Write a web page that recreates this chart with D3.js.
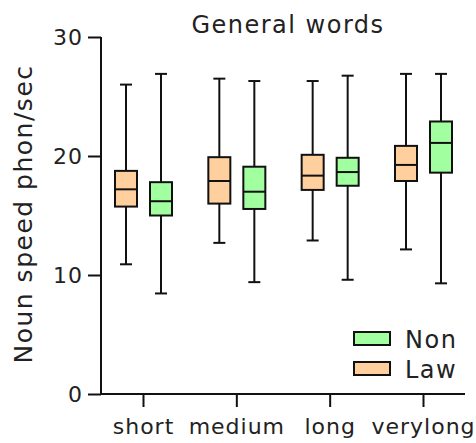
<!DOCTYPE html>
<html>
<head>
<meta charset="utf-8">
<script src="https://cdn.jsdelivr.net/npm/d3@7"></script>
<style>
  body { margin: 0; background: #fff; }
  text { font-family: "DejaVu Sans", sans-serif; fill: #222; }
</style>
</head>
<body>
<div id="chart"></div>
<script>
var categories = ["short", "medium", "long", "verylong"];
var groups = ["Law", "Non"];
var yTicks = [0, 10, 20, 30];

// [whiskerLow, q1, median, q3, whiskerHigh] per category
var lawStats = [
    [10.9, 15.75, 17.2, 18.75, 26.0],
    [12.7, 16.0, 17.9, 19.9, 26.5],
    [12.9, 17.15, 18.35, 20.1, 26.3],
    [12.15, 17.9, 19.25, 20.85, 26.9]
];
var nonStats = [
    [8.45, 15.0, 16.2, 17.8, 26.9],
    [9.4, 15.55, 17.0, 19.1, 26.3],
    [9.6, 17.5, 18.65, 19.85, 26.75],
    [9.3, 18.6, 21.1, 22.9, 26.9]
];

var colors = { Law: "#ffd09e", Non: "#a2ffa0" };

function init() {
    var w = 476, h = 443;
    var svg = d3.select("#chart").append("svg")
        .attr("width", w).attr("height", h);

    var x = d3.scalePoint().domain(categories).range([101, 465]).padding(0.45);
    var y = d3.scaleLinear().domain([0, 30]).range([394, 37]);
    var offset = { Law: -17, Non: 18 };
    var boxW = 22, capW = 12;

    // axes
    var yAxis = svg.append("g").attr("transform", "translate(101,0)")
        .call(d3.axisLeft(y).tickValues(yTicks).tickSize(13).tickPadding(5));
    var xAxis = svg.append("g").attr("transform", "translate(0,394)")
        .call(d3.axisBottom(x).tickSize(13).tickPadding(8));
    [yAxis, xAxis].forEach(function(g) {
        g.select(".domain").remove();
        g.selectAll("line").attr("stroke", "#111").attr("stroke-width", 2);
        g.selectAll("text").style("font-size", "22px").attr("fill", "#222")
            .style("letter-spacing", "1px")
            .style("font-family", "'DejaVu Sans', sans-serif");
    });
    xAxis.selectAll("text").attr("dy", "0.85em");
    svg.append("line").attr("x1", 101).attr("x2", 101).attr("y1", 37).attr("y2", 395)
        .attr("stroke", "#111").attr("stroke-width", 2);
    svg.append("line").attr("x1", 100).attr("x2", 465).attr("y1", 394).attr("y2", 394)
        .attr("stroke", "#111").attr("stroke-width", 2);

    var rows = [];
    categories.forEach(function(c, i) {
        rows.push({ cat: c, grp: "Law", s: lawStats[i] });
        rows.push({ cat: c, grp: "Non", s: nonStats[i] });
    });

    var box = svg.selectAll(".box").data(rows).enter().append("g")
        .attr("transform", function(d) { return "translate(" + (x(d.cat) + offset[d.grp]) + ",0)"; });

    box.append("line").attr("x1", 0).attr("x2", 0)
        .attr("y1", function(d) { return y(d.s[0]); })
        .attr("y2", function(d) { return y(d.s[4]); })
        .attr("stroke", "#111").attr("stroke-width", 2);
    box.append("line").attr("x1", -capW / 2).attr("x2", capW / 2)
        .attr("y1", function(d) { return y(d.s[0]); })
        .attr("y2", function(d) { return y(d.s[0]); })
        .attr("stroke", "#111").attr("stroke-width", 2);
    box.append("line").attr("x1", -capW / 2).attr("x2", capW / 2)
        .attr("y1", function(d) { return y(d.s[4]); })
        .attr("y2", function(d) { return y(d.s[4]); })
        .attr("stroke", "#111").attr("stroke-width", 2);
    box.append("rect").attr("x", -boxW / 2).attr("width", boxW)
        .attr("y", function(d) { return y(d.s[3]); })
        .attr("height", function(d) { return y(d.s[1]) - y(d.s[3]); })
        .attr("fill", function(d) { return colors[d.grp]; })
        .attr("stroke", "#111").attr("stroke-width", 2);
    box.append("line").attr("x1", -boxW / 2).attr("x2", boxW / 2)
        .attr("y1", function(d) { return y(d.s[2]); })
        .attr("y2", function(d) { return y(d.s[2]); })
        .attr("stroke", "#111").attr("stroke-width", 2);

    // legend
    var legend = svg.selectAll(".leg").data(["Non", "Law"]).enter().append("g")
        .attr("transform", function(d, i) { return "translate(354," + (332 + i * 30) + ")"; });
    legend.append("rect").attr("width", 36).attr("height", 13)
        .attr("fill", function(d) { return colors[d]; })
        .attr("stroke", "#111").attr("stroke-width", 2);
    legend.append("text").attr("x", 51).attr("y", 7).attr("dy", "0.36em")
        .style("font-size", "24px").style("letter-spacing", "1.5px")
        .text(function(d) { return d; });

    svg.append("text").attr("x", 288).attr("y", 33)
        .attr("text-anchor", "middle").style("font-size", "24px")
        .style("letter-spacing", "1.5px").text("General words");

    svg.append("text")
        .attr("transform", "translate(32,214) rotate(-90)")
        .attr("text-anchor", "middle").style("font-size", "25px")
        .style("letter-spacing", "1.5px")
        .text("Noun speed phon/sec");
}

window.onload = init;
</script>
</body>
</html>
